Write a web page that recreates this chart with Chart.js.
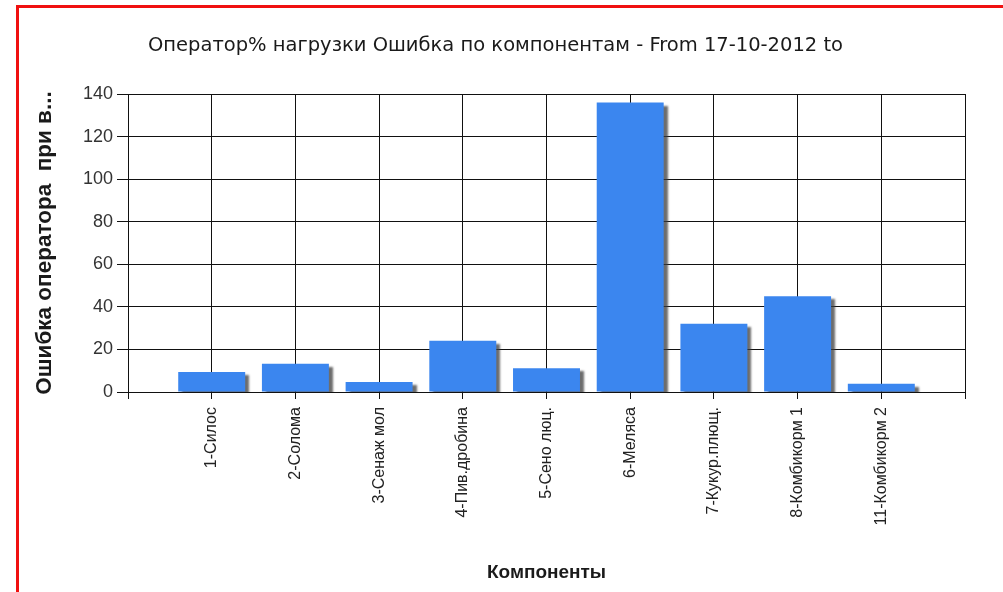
<!DOCTYPE html>
<html>
<head>
<meta charset="utf-8">
<script src="https://cdn.jsdelivr.net/npm/chart.js@4.4.0/dist/chart.umd.min.js"></script>
<style>
html,body{margin:0;padding:0;background:#fff;overflow:hidden;}
#wrap{position:absolute;left:0;top:0;width:1003px;height:592px;}
#frame{position:absolute;left:16px;top:5px;width:984px;height:600px;border:3px solid #f01010;border-bottom:none;pointer-events:none;}
</style>
</head>
<body>
<div id="wrap"><canvas id="c" width="1003" height="592"></canvas></div>
<div id="frame"></div>
<script>
const chartTitle = 'Оператор% нагрузки Ошибка по компонентам - From 17-10-2012 to';
const xTitle = 'Компоненты';
const yTitle = 'Ошибка оператора  при в...';
const categories = ['1-Силос','2-Солома','3-Сенаж мол','4-Пив.дробина','5-Сено люц.','6-Меляса','7-Кукур.плющ.','8-Комбикорм 1','11-Комбикорм 2'];
const values = [9.4, 13.3, 4.7, 24.1, 11.1, 136, 32.1, 45, 3.9];
const yTicks = [0, 20, 40, 60, 80, 100, 120, 140];

const labels = [''].concat(categories, ['']);
const data = [null].concat(values, [null]);

const shadowPlugin = {
  id: 'barShadow',
  beforeDatasetsDraw(chart) {
    const ctx = chart.ctx;
    ctx.save();
    ctx.shadowColor = 'rgba(60,60,60,0.75)';
    ctx.shadowOffsetX = 4;
    ctx.shadowOffsetY = 3;
    ctx.shadowBlur = 2;
  },
  afterDatasetsDraw(chart) {
    chart.ctx.restore();
  }
};

new Chart(document.getElementById('c'), {
  type: 'bar',
  data: {
    labels: labels,
    datasets: [{
      data: data,
      backgroundColor: '#3b86ef',
      borderWidth: 0,
      categoryPercentage: 1,
      barPercentage: 0.8
    }]
  },
  plugins: [shadowPlugin],
  options: {
    responsive: false,
    animation: false,
    layout: { padding: { left: 26, right: 38, top: 10, bottom: 8 } },
    plugins: {
      legend: { display: false },
      tooltip: { enabled: false },
      title: {
        display: true,
        text: chartTitle,
        color: '#1a1a1a',
        font: { family: 'DejaVu Sans', size: 19.5, weight: 'normal' },
        padding: { top: 24, bottom: 36.6 }
      }
    },
    scales: {
      x: {
        type: 'category',
        offset: false,
        grid: { offset: false, color: '#111', lineWidth: 1, drawTicks: true, tickLength: 7, tickColor: '#111' },
        border: { color: '#111', width: 1 },
        ticks: {
          autoSkip: false,
          maxRotation: 90,
          minRotation: 90,
          padding: 8,
          color: '#222',
          font: { family: 'Liberation Sans', size: 16 }
        },
        title: {
          display: true,
          text: xTitle,
          color: '#1a1a1a',
          font: { family: 'Liberation Sans', size: 19, weight: 'bold' },
          padding: 0
        },
        afterFit(scale) { scale.height = 192; }
      },
      y: {
        min: 0,
        max: 140,
        afterBuildTicks(scale) { scale.ticks = yTicks.map(v => ({ value: v })); },
        grid: { color: '#111', lineWidth: 1, drawTicks: true, tickLength: 11, tickColor: '#111' },
        border: { color: '#111', width: 1 },
        ticks: {
          padding: 4,
          color: '#333',
          font: { family: 'Liberation Sans', size: 18 }
        },
        title: {
          display: true,
          text: yTitle,
          color: '#1a1a1a',
          font: { family: 'Liberation Sans', size: 22.5, weight: 'bold' },
          padding: 5
        },
        afterFit(scale) { scale.width = 102; }
      }
    }
  }
});
</script>
</body>
</html>
